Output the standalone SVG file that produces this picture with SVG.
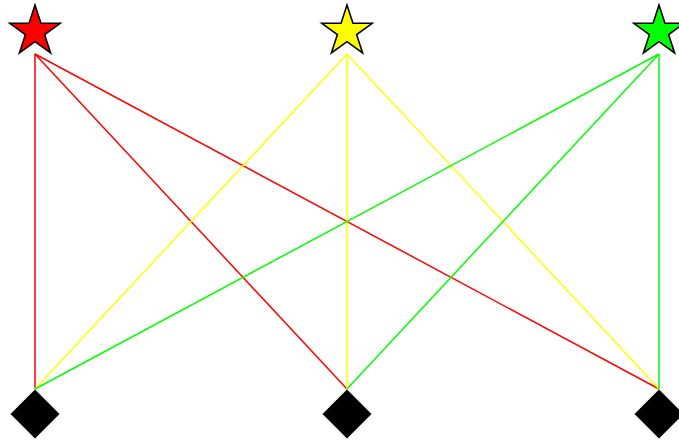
<svg xmlns="http://www.w3.org/2000/svg" xmlns:xlink="http://www.w3.org/1999/xlink" width="679" height="441" viewBox="0 0 679 441">
<style>
.edge{fill:none;stroke-width:1.5}
.red{stroke:#ff0000}
.yellow{stroke:#ffff00}
.green{stroke:#00ff00}
.star{stroke:#000;stroke-width:1.6;stroke-linejoin:miter}
.diamond{fill:#000}
</style>
<defs>
<path id="starShape" d="M0,-26.5 L5.95,-8.2 L25.2,-8.19 L9.63,3.13 L15.58,21.44 L0,10.13 L-15.58,21.44 L-9.63,3.13 L-25.2,-8.19 L-5.95,-8.2 Z"/>
<path id="diamondShape" d="M0,-24.5 L24.5,0 L0,24.5 L-24.5,0 Z"/>
</defs>
<rect width="679" height="441" fill="#fff"/>
<g id="connectors">
<line class="edge red" x1="35" y1="54" x2="35" y2="389"/>
<line class="edge red" x1="35" y1="54" x2="347" y2="389"/>
<line class="edge red" x1="35" y1="54" x2="659" y2="389"/>
<line class="edge yellow" x1="347" y1="54" x2="35" y2="389"/>
<line class="edge yellow" x1="347" y1="54" x2="347" y2="389"/>
<line class="edge yellow" x1="347" y1="54" x2="659" y2="389"/>
<line class="edge green" x1="659" y1="54" x2="35" y2="389"/>
<line class="edge green" x1="659" y1="54" x2="347" y2="389"/>
<line class="edge green" x1="659" y1="54" x2="659" y2="389"/>
</g>
<g id="star-red"><use xlink:href="#starShape" href="#starShape" class="star" fill="#ff0000" transform="translate(35,31.5)"/></g>
<g id="star-yellow"><use xlink:href="#starShape" href="#starShape" class="star" fill="#ffff00" transform="translate(347,31.5)"/></g>
<g id="star-green"><use xlink:href="#starShape" href="#starShape" class="star" fill="#00ff00" transform="translate(659,31.5)"/></g>
<g id="diamond-1"><use xlink:href="#diamondShape" href="#diamondShape" class="diamond" transform="translate(35,414)"/></g>
<g id="diamond-2"><use xlink:href="#diamondShape" href="#diamondShape" class="diamond" transform="translate(347,414)"/></g>
<g id="diamond-3"><use xlink:href="#diamondShape" href="#diamondShape" class="diamond" transform="translate(659,414)"/></g>
</svg>
